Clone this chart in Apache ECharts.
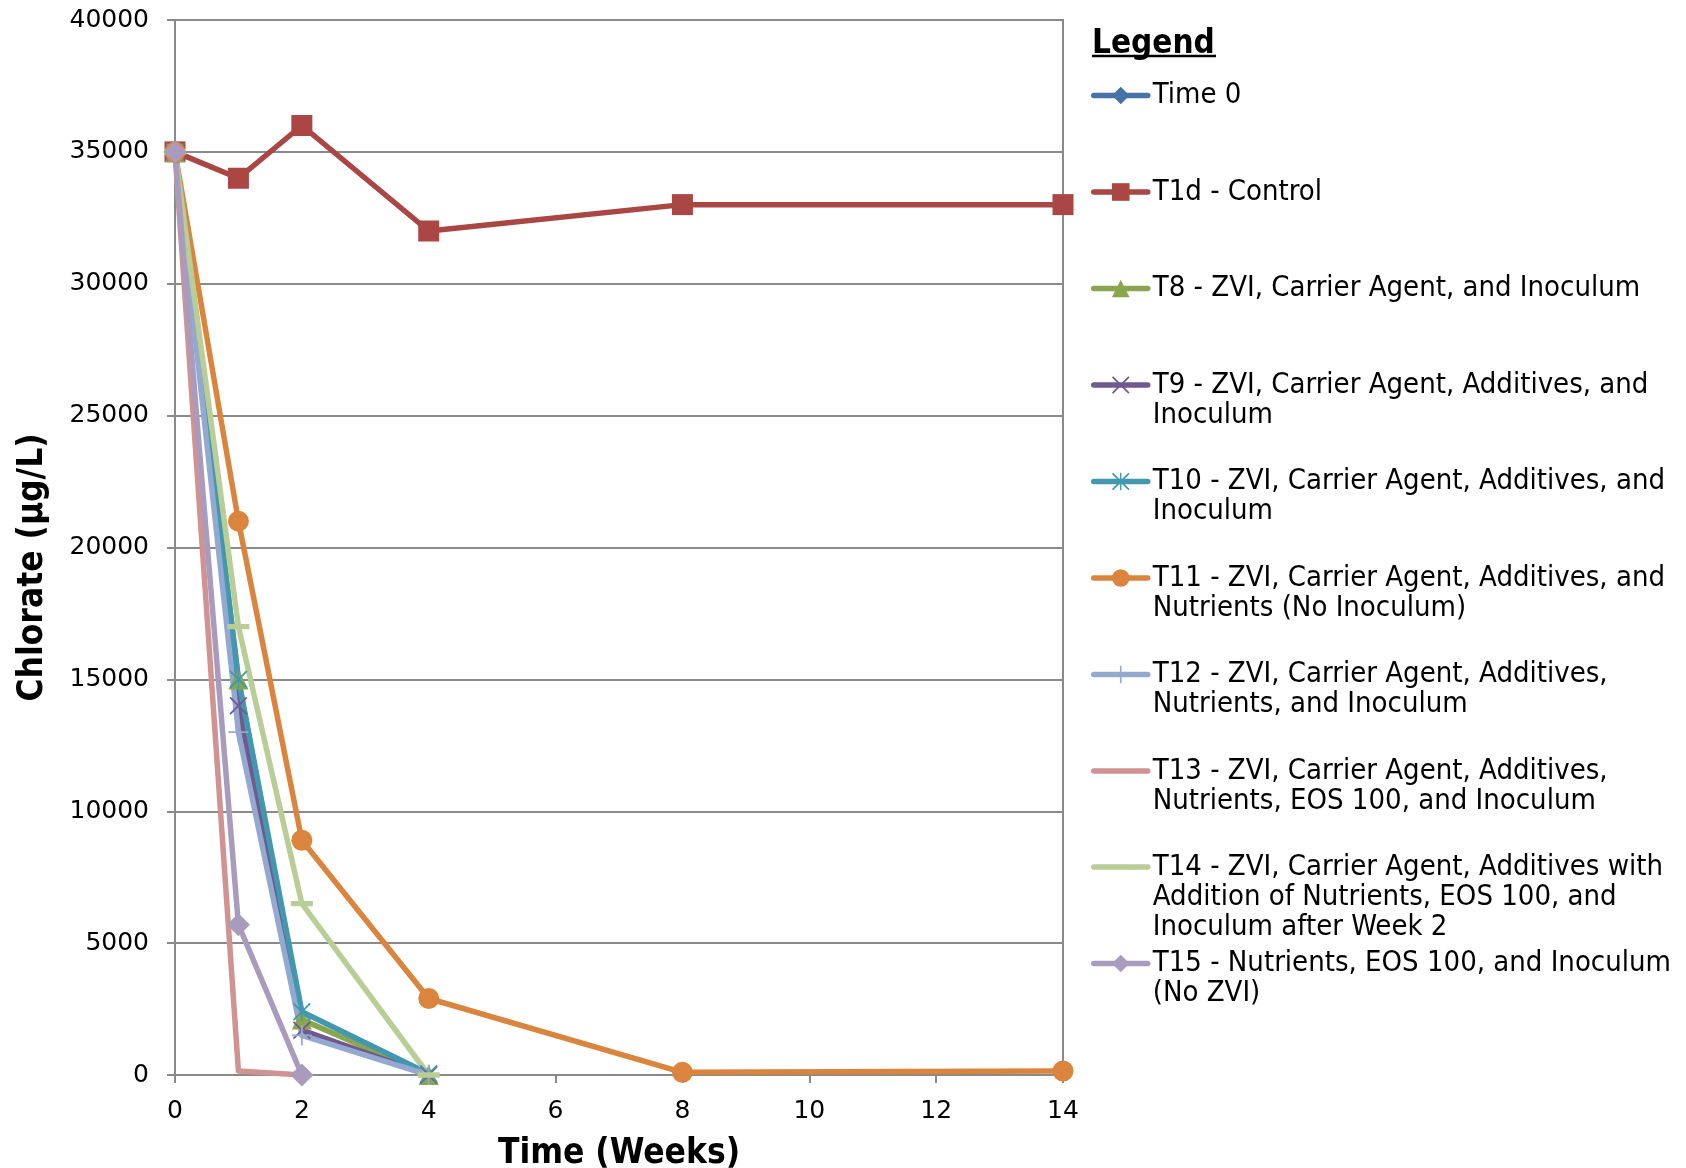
<!DOCTYPE html>
<html>
<head>
<meta charset="utf-8">
<script src="https://cdn.jsdelivr.net/npm/echarts@6/dist/echarts.min.js"></script>
<style>
  html, body { margin: 0; padding: 0; background: #ffffff; }
  #chart { width: 1686px; height: 1168px; }
</style>
</head>
<body>
<div id="chart"></div>
<script>
// Sampling times (weeks)
const weeks = [0, 1, 2, 4, 8, 14];

// Chlorate concentrations (µg/L) per treatment, aligned with weeks
const time0 = [35000];
const t1d   = [35000, 34000, 36000, 32000, 33000, 33000];
const t8    = [35000, 15000, 2100, 0];
const t9    = [35000, 14000, 1700, 0];
const t10   = [35000, 15000, 2400, 50];
const t11   = [35000, 21000, 8900, 2900, 100, 150];
const t12   = [35000, 13000, 1500, 0];
const t13   = [35000, 150, 0];
const t14   = [35000, 17000, 6500, 0];
const t15   = [35000, 5700, 0];

// Series names and wrapped legend labels
const seriesNames = [
  'Time 0',
  'T1d - Control',
  'T8 - ZVI, Carrier Agent, and Inoculum',
  'T9 - ZVI, Carrier Agent, Additives, and Inoculum',
  'T10 - ZVI, Carrier Agent, Additives, and Inoculum',
  'T11 - ZVI, Carrier Agent, Additives, and Nutrients (No Inoculum)',
  'T12 - ZVI, Carrier Agent, Additives, Nutrients, and Inoculum',
  'T13 - ZVI, Carrier Agent, Additives, Nutrients, EOS 100, and Inoculum',
  'T14 - ZVI, Carrier Agent, Additives with Addition of Nutrients, EOS 100, and Inoculum after Week 2',
  'T15 - Nutrients, EOS 100, and Inoculum (No ZVI)'
];
const legendLabels = [
  'Time 0',
  'T1d - Control',
  'T8 - ZVI, Carrier Agent, and Inoculum',
  'T9 - ZVI, Carrier Agent, Additives, and\nInoculum',
  'T10 - ZVI, Carrier Agent, Additives, and\nInoculum',
  'T11 - ZVI, Carrier Agent, Additives, and\nNutrients (No Inoculum)',
  'T12 - ZVI, Carrier Agent, Additives,\nNutrients, and Inoculum',
  'T13 - ZVI, Carrier Agent, Additives,\nNutrients, EOS 100, and Inoculum',
  'T14 - ZVI, Carrier Agent, Additives with\nAddition of Nutrients, EOS 100, and\nInoculum after Week 2',
  'T15 - Nutrients, EOS 100, and Inoculum\n(No ZVI)'
];
const seriesValues = [time0, t1d, t8, t9, t10, t11, t12, t13, t14, t15];

// Styling
const colors = ['#4572A7', '#AA4643', '#89A54E', '#71588F', '#4198AF',
                '#DB843D', '#93A9CF', '#D19392', '#B9CD96', '#A99BBD'];
// Marker outlines; the tiny corner specks keep every path in a square box
const CORNERS = 'M0,0H0.01V0.01H0ZM19.99,19.99H20V20H19.99Z';
const SYM_X = 'path://M0,1.4L1.4,0L20,18.6L18.6,20ZM18.6,0L20,1.4L1.4,20L0,18.6Z';
const SYM_STAR = 'path://M0,1.4L1.4,0L20,18.6L18.6,20ZM18.6,0L20,1.4L1.4,20L0,18.6ZM9.2,0H10.8V20H9.2Z';
const SYM_PLUS = 'path://M9.1,0H10.9V20H9.1ZM0,9.1H20V10.9H0Z';
const SYM_DASH = 'path://' + CORNERS + 'M0,7.6H20V12.4H0Z';
const SYM_NONE = 'path://' + CORNERS;
const symbols = ['diamond', 'rect', 'triangle', SYM_X, SYM_STAR, 'circle', SYM_PLUS, SYM_NONE, SYM_DASH, 'diamond'];
const symbolSizes = [23, 21, 20, 18, 18, 21, 20, 1, 22, 23];
const showSymbols = [true, true, true, true, true, true, true, false, true, true];

const GRAY = '#8a8a8a';
const SANS = "'DejaVu Sans', Verdana, sans-serif";
const COND = "'DejaVu Sans Condensed', 'DejaVu Sans', sans-serif";

// Legend layout: icon centre y per entry, text line height
const legendIconY = [95.5, 192, 288.5, 385, 481.5, 578, 674.5, 771, 867, 963.5];
const LEGEND_LH = 30;

const series = seriesValues.map((vals, i) => ({
  name: seriesNames[i],
  type: 'line',
  data: vals.map((v, k) => [weeks[k], v]),
  symbol: symbols[i],
  symbolSize: symbolSizes[i],
  showSymbol: showSymbols[i],
  showAllSymbol: true,
  color: colors[i],
  lineStyle: { color: colors[i], width: 5.5, cap: 'round', join: 'round' },
  itemStyle: { color: colors[i], borderWidth: 0 },
  emphasis: { disabled: true },
  animation: false
}));

// One legend block per entry; blank leading lines keep the first text line level with the icon
const legends = seriesNames.map((name, i) => {
  const lines = legendLabels[i].split('\n').length;
  return {
    data: [name],
    left: 1091,
    top: legendIconY[i] - (2 * lines - 1) * LEGEND_LH / 2,
    padding: 0,
    orient: 'vertical',
    itemWidth: 54,
    itemHeight: 22,
    selectedMode: false,
    lineStyle: { width: 5.5, cap: 'round' },
    formatter: () => '\n'.repeat(lines - 1) + legendLabels[i],
    textStyle: {
      fontFamily: COND,
      fontSize: 29,
      lineHeight: LEGEND_LH,
      color: '#000'
    }
  };
});

const chart = echarts.init(document.getElementById('chart'), null, { renderer: 'canvas' });
chart.setOption({
  animation: false,
  backgroundColor: '#ffffff',
  grid: {
    left: 175, top: 20, width: 888, height: 1055,
    containLabel: false, outerBoundsMode: 'none',
    show: true, borderColor: GRAY, borderWidth: 2, backgroundColor: 'transparent'
  },
  xAxis: {
    type: 'value', min: 0, max: 14, interval: 2,
    name: 'Time (Weeks)', nameLocation: 'middle', nameGap: 61,
    nameTextStyle: { fontFamily: COND, fontWeight: 'bold', fontSize: 35, color: '#000' },
    axisLine: { lineStyle: { color: GRAY, width: 2 } },
    axisTick: { show: true, length: 8, lineStyle: { color: GRAY, width: 2 } },
    axisLabel: { margin: 24, fontFamily: SANS, fontSize: 25, color: '#000' },
    splitLine: { show: false }
  },
  yAxis: {
    type: 'value', min: 0, max: 40000, interval: 5000,
    name: 'Chlorate (µg/L)', nameLocation: 'middle', nameGap: 125,
    nameTextStyle: { fontFamily: COND, fontWeight: 'bold', fontSize: 35, color: '#000', padding: [0, 40, 0, 0] },
    axisLine: { show: true, lineStyle: { color: GRAY, width: 2 } },
    axisTick: { show: true, length: 8, lineStyle: { color: GRAY, width: 2 } },
    axisLabel: { margin: 26, fontFamily: SANS, fontSize: 25, color: '#000', formatter: v => String(v) },
    splitLine: { show: true, lineStyle: { color: GRAY, width: 2 } }
  },
  legend: legends,
  graphic: [
    {
      type: 'text', left: 1092, top: 28,
      style: { text: 'Legend', font: "bold 33px " + COND, fill: '#000' }
    },
    {
      type: 'line', shape: { x1: 1092, y1: 56, x2: 1216, y2: 56 },
      style: { stroke: '#000', lineWidth: 2.5 }
    }
  ],
  series: series
});
</script>
</body>
</html>
